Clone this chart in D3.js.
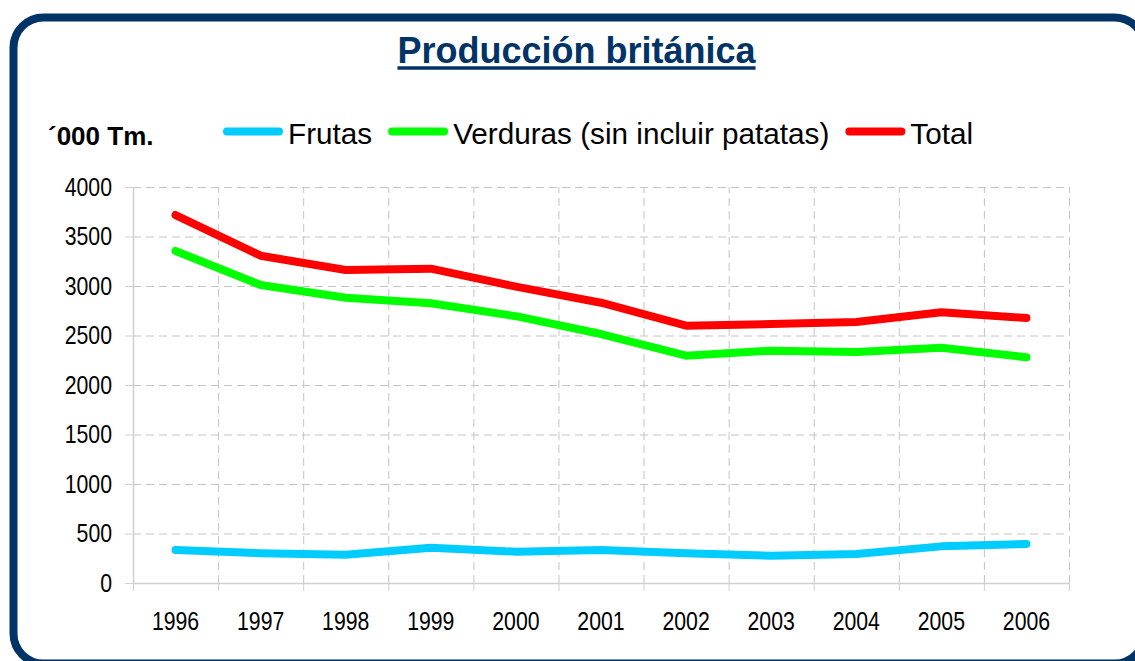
<!DOCTYPE html>
<html>
<head>
<meta charset="utf-8">
<script src="https://cdn.jsdelivr.net/npm/d3@7"></script>
<style>
  body { margin: 0; background: #fff; }
  text { font-family: "Liberation Sans", Arial, sans-serif; }
</style>
</head>
<body>
<div id="chart"></div>
<script>
//chart data ('000 Tm.)
const years = ["1996", "1997", "1998", "1999", "2000", "2001", "2002", "2003", "2004", "2005", "2006"];
const frutas = [333, 300, 285, 357, 316, 333, 300, 276, 293, 370, 394];
const verduras = [3354, 3010, 2882, 2825, 2695, 2515, 2296, 2347, 2333, 2377, 2280];
const total = [3717, 3306, 3162, 3175, 2993, 2831, 2599, 2616, 2636, 2734, 2677];
const yTicks = [0, 500, 1000, 1500, 2000, 2500, 3000, 3500, 4000];

const seriesNames = ["Frutas", "Verduras (sin incluir patatas)", "Total"];
const seriesColors = ["#00ccff", "#00ff00", "#ff0000"];

//setting visual dimensions
const width = 1135;
const height = 661;
const plot = { left: 133, right: 1069, top: 187, bottom: 583 };

const svg = d3.select("#chart")
  .append("svg")
  .attr("width", width)
  .attr("height", height);

//rounded frame
svg.append("rect")
  .attr("x", 13.5)
  .attr("y", 17.5)
  .attr("width", 1131)
  .attr("height", 646)
  .attr("rx", 30)
  .attr("fill", "#fff")
  .attr("stroke", "#003366")
  .attr("stroke-width", 8);

//title with underline
const title = svg.append("text")
  .attr("x", 576.5)
  .attr("y", 62.5)
  .attr("text-anchor", "middle")
  .attr("font-size", 36)
  .attr("font-weight", "bold")
  .attr("fill", "#003366")
  .text("Producción británica");
const tw = title.node().getComputedTextLength();
svg.append("line")
  .attr("x1", 576.5 - tw / 2)
  .attr("x2", 576.5 + tw / 2)
  .attr("y1", 68)
  .attr("y2", 68)
  .attr("stroke", "#003366")
  .attr("stroke-width", 3.5);

//unit label
svg.append("text")
  .attr("x", 48)
  .attr("y", 145)
  .attr("font-size", 26)
  .attr("font-weight", "bold")
  .attr("fill", "#000")
  .text("\u00B4000 Tm.");

//scales
const x = d3.scaleBand().domain(years).range([plot.left, plot.right]).paddingInner(0).paddingOuter(0);
const xEdge = d3.scaleLinear().domain([0, years.length]).range([plot.left, plot.right]);
const y = d3.scaleLinear().domain([0, 4000]).range([plot.bottom, plot.top]);

//dashed gridlines
svg.append("g")
  .attr("transform", `translate(${plot.left},0)`)
  .call(d3.axisLeft(y).tickValues(yTicks.slice(1)).tickSize(-(plot.right - plot.left)).tickFormat(""))
  .call(g => g.select(".domain").remove())
  .call(g => g.selectAll("line").attr("stroke", "#c4c4c4").attr("stroke-dasharray", "8,5"));

svg.append("g")
  .attr("transform", `translate(0,${plot.bottom})`)
  .call(d3.axisBottom(xEdge).tickValues(d3.range(1, years.length + 1)).tickSize(-(plot.bottom - plot.top)).tickFormat(""))
  .call(g => g.select(".domain").remove())
  .call(g => g.selectAll("line").attr("stroke", "#c4c4c4").attr("stroke-dasharray", "8,5"));

//y axis
const yAxis = svg.append("g")
  .attr("transform", `translate(${plot.left},0)`)
  .call(d3.axisLeft(y).tickValues(yTicks).tickSize(8).tickSizeOuter(0).tickFormat(d3.format("d")));
yAxis.select(".domain").attr("stroke", "#d0d0d0").attr("stroke-width", 1.5);
yAxis.selectAll("line").attr("stroke", "#d0d0d0");
yAxis.selectAll("text")
  .attr("font-size", 25)
  .attr("font-family", "Liberation Sans, Arial, sans-serif")
  .attr("fill", "#000")
  .attr("x", -21 / 0.85)
  .attr("dy", "0.32em")
  .attr("transform", "scale(0.85,1)");

//x axis: tick marks at category edges, labels at centres
const xAxis = svg.append("g")
  .attr("transform", `translate(0,${plot.bottom})`)
  .call(d3.axisBottom(xEdge).tickValues(d3.range(0, years.length + 1)).tickSize(8).tickSizeOuter(0).tickFormat(""));
xAxis.select(".domain").attr("stroke", "#d0d0d0").attr("stroke-width", 1.5);
xAxis.selectAll("line").attr("stroke", "#d0d0d0");

const xLabels = svg.append("g")
  .attr("transform", `translate(0,${plot.bottom})`)
  .call(d3.axisBottom(x).tickSize(0));
xLabels.select(".domain").remove();
xLabels.selectAll("text")
  .attr("font-size", 25)
  .attr("font-family", "Liberation Sans, Arial, sans-serif")
  .attr("fill", "#000")
  .attr("y", 47.5)
  .attr("dy", 0)
  .attr("transform", "scale(0.85,1)");

//series lines
const line = d3.line()
  .x((d, i) => x(years[i]) + x.bandwidth() / 2)
  .y(d => y(d));

[frutas, verduras, total].forEach((s, k) => {
  svg.append("path")
    .datum(s)
    .attr("d", line)
    .attr("fill", "none")
    .attr("stroke", seriesColors[k])
    .attr("stroke-width", 8)
    .attr("stroke-linecap", "round")
    .attr("stroke-linejoin", "round");
});

//legend
let lx = 223;
seriesNames.forEach((name, k) => {
  svg.append("line")
    .attr("x1", lx + 4)
    .attr("x2", lx + 56)
    .attr("y1", 131.5)
    .attr("y2", 131.5)
    .attr("stroke", seriesColors[k])
    .attr("stroke-width", 8)
    .attr("stroke-linecap", "round");
  const t = svg.append("text")
    .attr("x", lx + 65)
    .attr("y", 144)
    .attr("font-size", 29.7)
    .attr("fill", "#000")
    .text(name);
  lx += 65 + t.node().getComputedTextLength() + 16;
});
</script>
</body>
</html>
